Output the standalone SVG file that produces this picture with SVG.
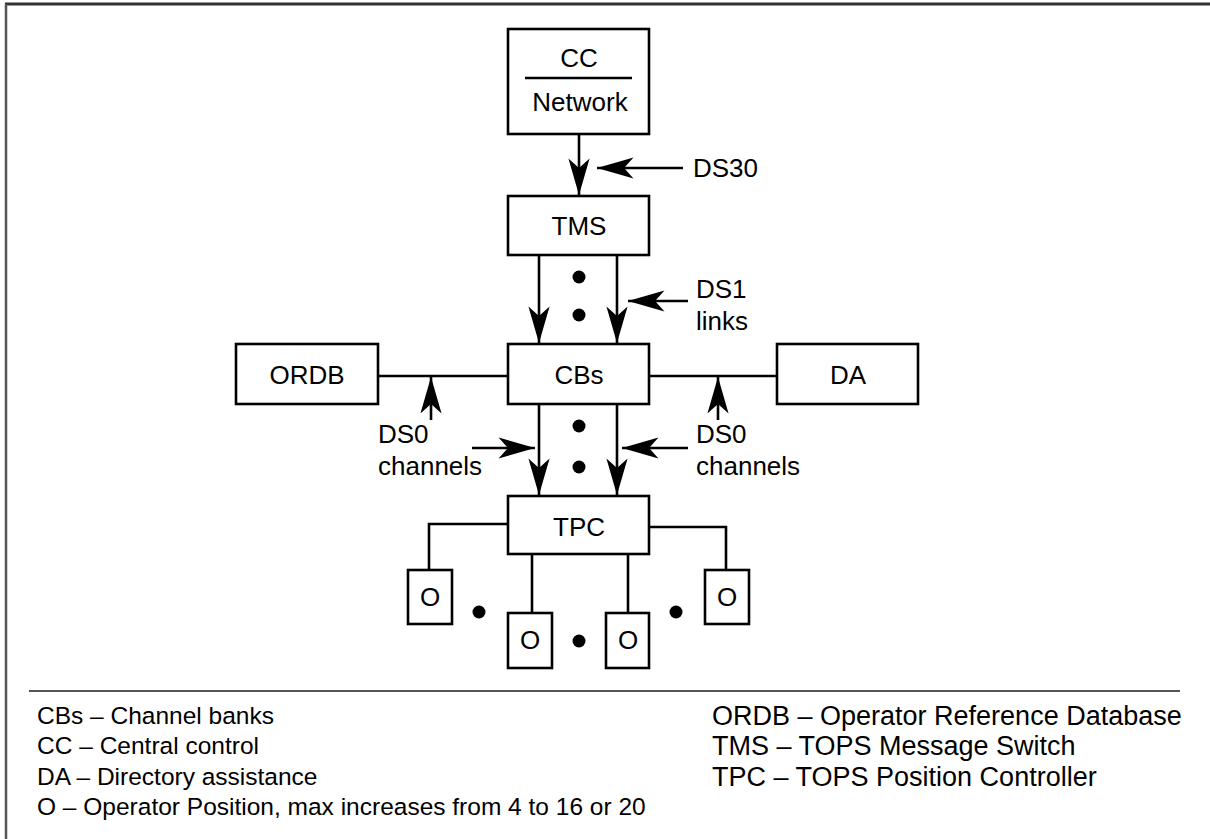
<svg xmlns="http://www.w3.org/2000/svg" width="1210" height="839" viewBox="0 0 1210 839">
<style>
.box{fill:#fff;stroke:#000;stroke-width:2.6}
.ln{fill:none;stroke:#000;stroke-width:2.6}
.t{font-family:"Liberation Sans",Arial,sans-serif;font-size:26px;fill:#000}
.c{text-anchor:middle}
.lg{font-family:"Liberation Sans",Arial,sans-serif;font-size:24.5px;fill:#000}
.lr{font-family:"Liberation Sans",Arial,sans-serif;font-size:27px;fill:#000}
.dot{fill:#000}
</style>
<defs>
<marker id="ah" markerUnits="userSpaceOnUse" markerWidth="40" markerHeight="30" viewBox="-32 -10 34 20" refX="0" refY="0" orient="auto">
<path d="M0,0 L-31,-9 L-23,0 L-31,9 Z" fill="#000"/>
</marker>
</defs>
<rect width="1210" height="839" fill="#fff"/>
<g id="frame">
<line x1="5" y1="4" x2="1210" y2="4" stroke="#333" stroke-width="3"/>
<line x1="6" y1="4" x2="6" y2="839" stroke="#555" stroke-width="2.5"/>
<line x1="29" y1="691" x2="1180" y2="691" stroke="#555" stroke-width="2"/>
</g>
<g id="connectors">
<line class="ln" x1="579" y1="134" x2="579" y2="195" marker-end="url(#ah)"/>
<line class="ln" x1="683" y1="168" x2="597" y2="168" marker-end="url(#ah)"/>
<line class="ln" x1="539" y1="255" x2="539" y2="343" marker-end="url(#ah)"/>
<line class="ln" x1="617" y1="255" x2="617" y2="343" marker-end="url(#ah)"/>
<line class="ln" x1="688" y1="301" x2="628" y2="301" marker-end="url(#ah)"/>
<line class="ln" x1="378" y1="376" x2="508" y2="376"/>
<line class="ln" x1="431" y1="420" x2="431" y2="377" marker-end="url(#ah)"/>
<line class="ln" x1="649" y1="376" x2="777" y2="376"/>
<line class="ln" x1="718" y1="420" x2="718" y2="377" marker-end="url(#ah)"/>
<line class="ln" x1="539" y1="404" x2="539" y2="495" marker-end="url(#ah)"/>
<line class="ln" x1="617" y1="404" x2="617" y2="495" marker-end="url(#ah)"/>
<line class="ln" x1="472" y1="448" x2="535" y2="448" marker-end="url(#ah)"/>
<line class="ln" x1="688" y1="448" x2="622" y2="448" marker-end="url(#ah)"/>
<polyline class="ln" points="508,524 429,524 429,570"/>
<polyline class="ln" points="649,527 726,527 726,570"/>
<line class="ln" x1="532" y1="554" x2="532" y2="613"/>
<line class="ln" x1="628" y1="554" x2="628" y2="613"/>
</g>
<g id="dots">
<circle class="dot" cx="579" cy="277" r="6.5"/>
<circle class="dot" cx="579" cy="315" r="6.5"/>
<circle class="dot" cx="579" cy="426" r="6.5"/>
<circle class="dot" cx="579" cy="467" r="6.5"/>
<circle class="dot" cx="479" cy="612" r="6.5"/>
<circle class="dot" cx="579" cy="641" r="6.5"/>
<circle class="dot" cx="676" cy="612" r="6.5"/>
</g>
<g id="cc">
<rect class="box" x="508" y="29" width="141" height="105"/>
<line class="ln" x1="525" y1="78" x2="632" y2="78"/>
<text class="t c" x="579" y="67">CC</text>
<text class="t c" x="580" y="111">Network</text>
</g>
<g id="tms">
<rect class="box" x="508" y="196" width="141" height="59"/>
<text class="t c" x="579" y="235">TMS</text>
</g>
<g id="ordb">
<rect class="box" x="236" y="344" width="142" height="60"/>
<text class="t c" x="307" y="384">ORDB</text>
</g>
<g id="cbs">
<rect class="box" x="508" y="344" width="141" height="60"/>
<text class="t c" x="579" y="384">CBs</text>
</g>
<g id="da">
<rect class="box" x="777" y="344" width="141" height="60"/>
<text class="t c" x="848" y="384">DA</text>
</g>
<g id="tpc">
<rect class="box" x="508" y="496" width="141" height="58"/>
<text class="t c" x="579" y="536">TPC</text>
</g>
<g id="o1">
<rect class="box" x="408" y="570" width="44" height="54"/>
<text class="t c" x="430" y="606">O</text>
</g>
<g id="o2">
<rect class="box" x="508" y="613" width="44" height="55"/>
<text class="t c" x="530" y="649">O</text>
</g>
<g id="o3">
<rect class="box" x="606" y="613" width="43" height="55"/>
<text class="t c" x="628" y="649">O</text>
</g>
<g id="o4">
<rect class="box" x="705" y="570" width="44" height="54"/>
<text class="t c" x="727" y="606">O</text>
</g>
<g id="labels">
<text class="t" x="693" y="177">DS30</text>
<text class="t" x="696" y="298">DS1</text>
<text class="t" x="696" y="330">links</text>
<text class="t" x="378" y="443">DS0</text>
<text class="t" x="378" y="475">channels</text>
<text class="t" x="696" y="443">DS0</text>
<text class="t" x="696" y="475">channels</text>
</g>
<g id="legend">
<text class="lg" x="37" y="724">CBs – Channel banks</text>
<text class="lg" x="37" y="754">CC – Central control</text>
<text class="lg" x="37" y="785">DA – Directory assistance</text>
<text class="lg" x="37" y="815">O – Operator Position, max increases from 4 to 16 or 20</text>
<text class="lr" x="712" y="725">ORDB – Operator Reference Database</text>
<text class="lr" x="712" y="755">TMS – TOPS Message Switch</text>
<text class="lr" x="712" y="786">TPC – TOPS Position Controller</text>
</g>
</svg>
